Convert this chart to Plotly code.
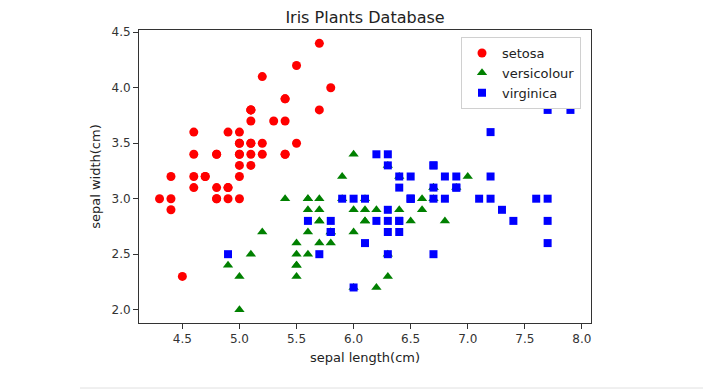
import plotly.graph_objects as go

setosa_len = [5.1, 4.9, 4.7, 4.6, 5.0, 5.4, 4.6, 5.0, 4.4, 4.9, 5.4, 4.8, 4.8, 4.3, 5.8, 5.7, 5.4, 5.1, 5.7, 5.1,
              5.4, 5.1, 4.6, 5.1, 4.8, 5.0, 5.0, 5.2, 5.2, 4.7, 4.8, 5.4, 5.2, 5.5, 4.9, 5.0, 5.5, 4.9, 4.4, 5.1,
              5.0, 4.5, 4.4, 5.0, 5.1, 4.8, 5.1, 4.6, 5.3, 5.0]
setosa_wid = [3.5, 3.0, 3.2, 3.1, 3.6, 3.9, 3.4, 3.4, 2.9, 3.1, 3.7, 3.4, 3.0, 3.0, 4.0, 4.4, 3.9, 3.5, 3.8, 3.8,
              3.4, 3.7, 3.6, 3.3, 3.4, 3.0, 3.4, 3.5, 3.4, 3.2, 3.1, 3.4, 4.1, 4.2, 3.1, 3.2, 3.5, 3.6, 3.0, 3.4,
              3.5, 2.3, 3.2, 3.5, 3.8, 3.0, 3.8, 3.2, 3.7, 3.3]
versi_len = [7.0, 6.4, 6.9, 5.5, 6.5, 5.7, 6.3, 4.9, 6.6, 5.2, 5.0, 5.9, 6.0, 6.1, 5.6, 6.7, 5.6, 5.8, 6.2, 5.6,
             5.9, 6.1, 6.3, 6.1, 6.4, 6.6, 6.8, 6.7, 6.0, 5.7, 5.5, 5.5, 5.8, 6.0, 5.4, 6.0, 6.7, 6.3, 5.6, 5.5,
             5.5, 6.1, 5.8, 5.0, 5.6, 5.7, 5.7, 6.2, 5.1, 5.7]
versi_wid = [3.2, 3.2, 3.1, 2.3, 2.8, 2.8, 3.3, 2.4, 2.9, 2.7, 2.0, 3.0, 2.2, 2.9, 2.9, 3.1, 3.0, 2.7, 2.2, 2.5,
             3.2, 2.8, 2.5, 2.8, 2.9, 3.0, 2.8, 3.0, 2.9, 2.6, 2.4, 2.4, 2.7, 2.7, 3.0, 3.4, 3.1, 2.3, 3.0, 2.5,
             2.6, 3.0, 2.6, 2.3, 2.7, 3.0, 2.9, 2.9, 2.5, 2.8]
virg_len = [6.3, 5.8, 7.1, 6.3, 6.5, 7.6, 4.9, 7.3, 6.7, 7.2, 6.5, 6.4, 6.8, 5.7, 5.8, 6.4, 6.5, 7.7, 7.7, 6.0,
            6.9, 5.6, 7.7, 6.3, 6.7, 7.2, 6.2, 6.1, 6.4, 7.2, 7.4, 7.9, 6.4, 6.3, 6.1, 7.7, 6.3, 6.4, 6.0, 6.9,
            6.7, 6.9, 5.8, 6.8, 6.7, 6.7, 6.3, 6.5, 6.2, 5.9]
virg_wid = [3.3, 2.7, 3.0, 2.9, 3.0, 3.0, 2.5, 2.9, 2.5, 3.6, 3.2, 2.7, 3.0, 2.5, 2.8, 3.2, 3.0, 3.8, 2.6, 2.2,
            3.2, 2.8, 2.8, 2.7, 3.3, 3.2, 2.8, 3.0, 2.8, 3.0, 2.8, 3.8, 2.8, 2.8, 2.6, 3.0, 3.4, 3.1, 3.0, 3.1,
            3.1, 3.1, 2.7, 3.2, 3.3, 3.0, 2.5, 3.0, 3.4, 3.0]

x_ticks = [4.5, 5.0, 5.5, 6.0, 6.5, 7.0, 7.5, 8.0]
y_ticks = [2.0, 2.5, 3.0, 3.5, 4.0, 4.5]

FONT = "DejaVu Sans"
OFF = 8  # page body margin
W, H = 711 - OFF, 390 - OFF
L, R, T, B = 139 - OFF, 591 - OFF, 30 - OFF, 323 - OFF

fig = go.Figure()
fig.add_trace(go.Scatter(x=setosa_len, y=setosa_wid, mode="markers", name="setosa",
                         marker=dict(color="red", symbol="circle", size=9)))
fig.add_trace(go.Scatter(x=versi_len, y=versi_wid, mode="markers", name="versicolour",
                         marker=dict(color="green", symbol="triangle-up", size=9)))
fig.add_trace(go.Scatter(x=virg_len, y=virg_wid, mode="markers", name="virginica",
                         marker=dict(color="blue", symbol="square", size=8)))

axis_common = dict(showgrid=False, zeroline=False, showline=True, linecolor="#333333", linewidth=1,
                   mirror=True, ticks="outside", ticklen=5, tickcolor="#333333", automargin=False,
                   tickfont=dict(family=FONT, size=12, color="#333333"))

fig.update_layout(
    width=W, height=H,
    margin=dict(l=L, r=W - R, t=T, b=H - B, autoexpand=False),
    paper_bgcolor="white", plot_bgcolor="white",
    title=dict(text="Iris Plants Database", x=(L + R) / 2 / W, xanchor="center",
               y=1 - (17 - OFF) / H, yanchor="middle", font=dict(family=FONT, size=16, color="#222222")),
    xaxis=dict(range=[4.12, 8.08], tickvals=x_ticks, ticktext=[f"{v:.1f}" for v in x_ticks],
               title=dict(text="sepal length(cm)", font=dict(family=FONT, size=13, color="#222222"), standoff=7),
               **axis_common),
    yaxis=dict(range=[1.88, 4.52], tickvals=y_ticks, ticktext=[f"{v:.1f}" for v in y_ticks],
               title=dict(text="sepal width(cm)", font=dict(family=FONT, size=13, color="#222222"), standoff=7),
               **axis_common),
    legend=dict(x=(461 - 139) / (R - L), y=(323 - 37) / (B - T), xanchor="left", yanchor="top", bgcolor="white",
                bordercolor="#d0d0d0", borderwidth=1, font=dict(family=FONT, size=13, color="#222222"),
                itemsizing="trace", tracegroupgap=0),
    showlegend=True,
)

fig.add_shape(type="line", xref="paper", yref="paper", x0=(80 - 139) / (R - L), x1=(711 - 139) / (R - L),
              y0=(323 - 388) / (B - T), y1=(323 - 388) / (B - T), line=dict(color="#e0e0e0", width=1))

fig.write_html("out.html")
